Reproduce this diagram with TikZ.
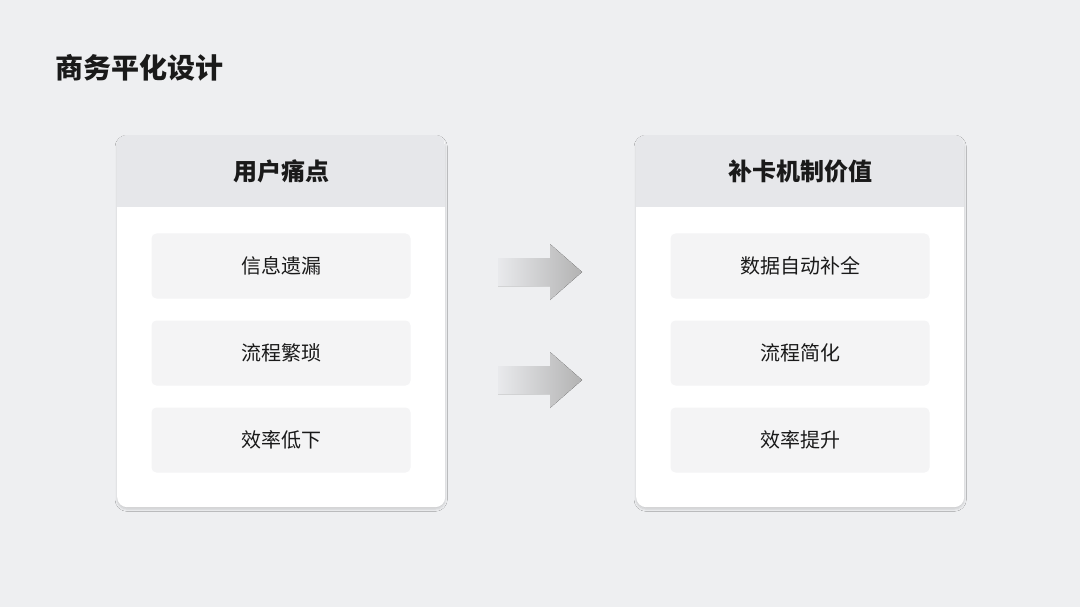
\documentclass[tikz,border=0pt]{standalone}
\usepackage{fontspec}
\setmainfont{Noto Sans CJK SC}
\usetikzlibrary{shadows.blur}
\definecolor{bgc}{HTML}{EEEFF1}
\definecolor{hdr}{HTML}{E6E7EA}
\definecolor{item}{HTML}{F4F4F5}
\definecolor{txt}{HTML}{1A1A1A}
\tikzset{
  panel/.style={fill=white,rounded corners=10pt,minimum width=328pt,minimum height=372pt,inner sep=0pt,blur shadow={shadow blur steps=6,shadow xshift=0pt,shadow yshift=-2pt,shadow opacity=15}},
  itembox/.style={fill=item,rounded corners=5pt,minimum width=259pt,minimum height=65pt,font=\fontsize{20}{24}\selectfont,text=txt},
  hdrtext/.style={font=\fontsize{24}{28}\selectfont\bfseries,text=txt},
  bigarrow/.style={left color=hdr!90!white,right color=gray!60,draw=none}
}
\begin{document}
\begin{tikzpicture}[x=1pt,y=-1pt]
\useasboundingbox (0,0) rectangle (1080,607);
\fill[bgc] (0,0) rectangle (1080,607);
\node[anchor=west,font=\fontsize{28}{34}\selectfont\bfseries,text=txt] (title) at (52,68) {商务平化设计};
\foreach \n/\x/\h/\a/\b/\c in {L/117/用户痛点/信息遗漏/流程繁琐/效率低下, R/636/补卡机制价值/数据自动补全/流程简化/效率提升}{
  \node[panel,anchor=north west] (p\n) at (\x,135) {};
  \begin{scope}
    \clip[rounded corners=10pt] (\x,135) rectangle ++(328,372);
    \fill[hdr] (\x,135) rectangle ++(328,72);
  \end{scope}
  \node[hdrtext] (h\n) at (\x+164,171) {\h};
  \node[itembox] (a\n) at (\x+164,266) {\a};
  \node[itembox] (b\n) at (\x+164,353) {\b};
  \node[itembox] (c\n) at (\x+164,440) {\c};
}
\foreach \y in {272,380}{
  \fill[bigarrow] (498,\y-14) -- (550,\y-14) -- (550,\y-28) -- (582,\y) -- (550,\y+28) -- (550,\y+14) -- (498,\y+14) -- cycle;
}
\end{tikzpicture}
\end{document}
